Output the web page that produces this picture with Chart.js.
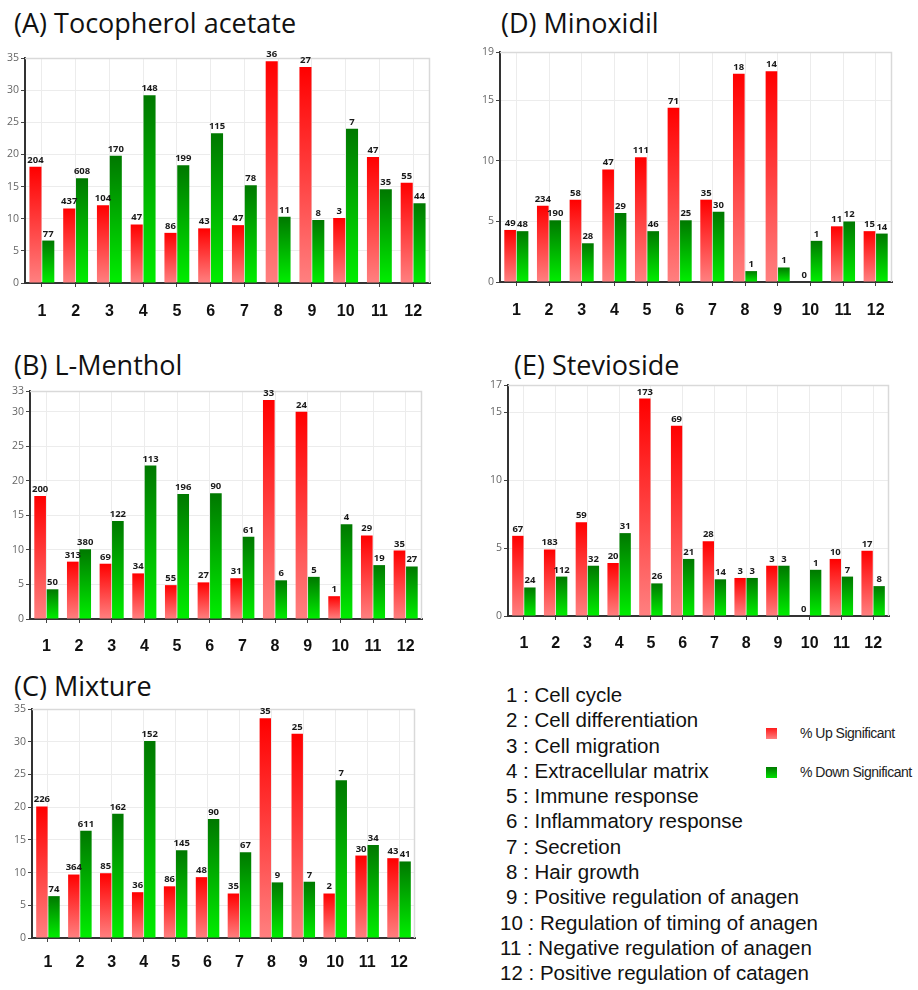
<!DOCTYPE html>
<html>
<head>
<meta charset="utf-8">
<script src="https://cdn.jsdelivr.net/npm/chart.js@4.4.1/dist/chart.umd.min.js"></script>
<style>
  html, body { margin: 0; padding: 0; background: #fff; }
  body { width: 918px; height: 990px; position: relative; overflow: hidden; }
  canvas { position: absolute; }
  .title {
    position: absolute; white-space: nowrap; line-height: 1;
    font-family: "Open Sans", "Noto Sans", sans-serif; font-size: 27px; color: #111;
  }
  .terms {
    position: absolute; left: 500px; top: 682px;
    font-family: "Liberation Sans", Arial, sans-serif; font-size: 20.5px; color: #111;
    line-height: 25.3px; white-space: nowrap;
  }
  .terms div.one { padding-left: 6px; }
  .key {
    position: absolute; left: 766px;
    font-family: "Liberation Sans", Arial, sans-serif; font-size: 14px; color: #222;
    letter-spacing: -0.5px; white-space: nowrap; line-height: 14px;
  }
  .key span.sw { display: inline-block; width: 11px; height: 11px; vertical-align: -1px; margin-right: 23px; }
</style>
</head>
<body>

<div class="title" style="left:14px; top:9px;">(A) Tocopherol acetate</div>
<div class="title" style="left:501px; top:9px;">(D) Minoxidil</div>
<div class="title" style="left:14px; top:351px;">(B) L-Menthol</div>
<div class="title" style="left:514px; top:351px;">(E) Stevioside</div>
<div class="title" style="left:14px; top:672px;">(C) Mixture</div>

<canvas id="chartA"></canvas>
<canvas id="chartD"></canvas>
<canvas id="chartB"></canvas>
<canvas id="chartE"></canvas>
<canvas id="chartC"></canvas>

<div class="terms" id="terms"></div>
<div class="key" style="top:726px;"><span class="sw" style="background:linear-gradient(#ff1a1a,#ff8080)"></span>% Up Significant</div>
<div class="key" style="top:765px;"><span class="sw" style="background:linear-gradient(#007a00,#00e000)"></span>% Down Significant</div>

<script>
// Gene-ontology categories shown on every x axis
const categories = ['1', '2', '3', '4', '5', '6', '7', '8', '9', '10', '11', '12'];
const termNames = [
  'Cell cycle', 'Cell differentiation', 'Cell migration', 'Extracellular matrix',
  'Immune response', 'Inflammatory response', 'Secretion', 'Hair growth',
  'Positive regulation of anagen', 'Regulation of timing of anagen',
  'Negative regulation of anagen', 'Positive regulation of catagen'
];

// (A) Tocopherol acetate: % of genes, and gene counts printed over the bars
const tocoUp = [18.1, 11.6, 12.1, 9.1, 7.8, 8.5, 9.0, 34.5, 33.6, 10.1, 19.6, 15.6];
const tocoDown = [6.6, 16.3, 19.8, 29.2, 18.3, 23.3, 15.2, 10.3, 9.8, 24.0, 14.6, 12.4];
const tocoUpCounts = [204, 437, 104, 47, 86, 43, 47, 36, 27, 3, 47, 55];
const tocoDownCounts = [77, 608, 170, 148, 199, 115, 78, 11, 8, 7, 35, 44];
const tocoTicks = [0, 5, 10, 15, 20, 25, 30, 35];

// (D) Minoxidil
const minoxUp = [4.3, 6.3, 6.8, 9.3, 10.3, 14.4, 6.8, 17.2, 17.4, 0, 4.6, 4.2];
const minoxDown = [4.2, 5.1, 3.2, 5.7, 4.2, 5.1, 5.8, 0.9, 1.2, 3.4, 5.0, 4.0];
const minoxUpCounts = [49, 234, 58, 47, 111, 71, 35, 18, 14, 0, 11, 15];
const minoxDownCounts = [48, 190, 28, 29, 46, 25, 30, 1, 1, 1, 12, 14];
const minoxTicks = [0, 5, 10, 15, 19];

// (B) L-Menthol
const mentholUp = [17.8, 8.3, 8.0, 6.6, 4.9, 5.3, 5.9, 31.7, 30.0, 3.3, 12.1, 9.9];
const mentholDown = [4.3, 10.1, 14.2, 22.2, 18.1, 18.2, 11.9, 5.6, 6.1, 13.7, 7.8, 7.6];
const mentholUpCounts = [200, 313, 69, 34, 55, 27, 31, 33, 24, 1, 29, 35];
const mentholDownCounts = [50, 380, 122, 113, 196, 90, 61, 6, 5, 4, 19, 27];
const mentholTicks = [0, 5, 10, 15, 20, 25, 30, 33];

// (E) Stevioside
const stevUp = [5.9, 4.9, 6.9, 3.9, 16.0, 14.0, 5.5, 2.8, 3.7, 0, 4.2, 4.8];
const stevDown = [2.1, 2.9, 3.7, 6.1, 2.4, 4.2, 2.7, 2.8, 3.7, 3.4, 2.9, 2.2];
const stevUpCounts = [67, 183, 59, 20, 173, 69, 28, 3, 3, 0, 10, 17];
const stevDownCounts = [24, 112, 32, 31, 26, 21, 14, 3, 3, 1, 7, 8];
const stevTicks = [0, 5, 10, 15, 17];

// (C) Mixture
const mixUp = [20.1, 9.7, 9.9, 7.0, 7.9, 9.3, 6.8, 33.6, 31.2, 6.8, 12.6, 12.2];
const mixDown = [6.4, 16.4, 19.0, 30.1, 13.4, 18.2, 13.1, 8.5, 8.6, 24.1, 14.2, 11.7];
const mixUpCounts = [226, 364, 85, 36, 86, 48, 35, 35, 25, 2, 30, 43];
const mixDownCounts = [74, 611, 162, 152, 145, 90, 67, 9, 7, 7, 34, 41];
const mixTicks = [0, 5, 10, 15, 20, 25, 30, 35];

const seriesNames = ['% Up Significant', '% Down Significant'];

// term list beside the legend
const termsEl = document.getElementById('terms');
termNames.forEach((name, i) => {
  const d = document.createElement('div');
  d.textContent = categories[i] + ' : ' + name;
  if (categories[i].length === 1) d.className = 'one';
  termsEl.appendChild(d);
});

// vertical gradient that spans each bar from its top down to zero
function barGradient(topColor, bottomColor) {
  return (c) => {
    const chart = c.chart;
    const y = chart.scales && chart.scales.y;
    if (!chart.chartArea || !y || c.raw == null) return topColor;
    const top = y.getPixelForValue(c.raw);
    const bot = y.getPixelForValue(0);
    if (bot - top < 1) return topColor;
    const g = chart.ctx.createLinearGradient(0, top, 0, bot);
    g.addColorStop(0, topColor);
    g.addColorStop(1, bottomColor);
    return g;
  };
}

// gene counts written above each bar
const countLabels = {
  id: 'countLabels',
  afterDatasetsDraw(chart) {
    const ctx = chart.ctx;
    ctx.save();
    ctx.font = 'bold 9.5px "Open Sans", "Noto Sans", sans-serif';
    ctx.fillStyle = '#1a1a1a';
    ctx.textAlign = 'center';
    ctx.textBaseline = 'bottom';
    chart.data.datasets.forEach((ds, di) => {
      const meta = chart.getDatasetMeta(di);
      meta.data.forEach((bar, i) => {
        ctx.fillText(String(ds.counts[i]), bar.x, bar.y - 2);
      });
    });
    ctx.restore();
  }
};

// light frame round the plotting area
const plotFrame = {
  id: 'plotFrame',
  beforeDatasetsDraw(chart) {
    const a = chart.chartArea;
    const ctx = chart.ctx;
    ctx.save();
    ctx.strokeStyle = '#d9d9d9';
    ctx.lineWidth = 1.5;
    ctx.beginPath();
    ctx.moveTo(a.left, a.top + 0.5);
    ctx.lineTo(a.right - 0.5, a.top + 0.5);
    ctx.lineTo(a.right - 0.5, a.bottom);
    ctx.stroke();
    ctx.restore();
  }
};

function makePanel(id, box, plot, labelPad, up, down, upCounts, downCounts, ticks) {
  const cv = document.getElementById(id);
  cv.style.left = box.left + 'px';
  cv.style.top = box.top + 'px';
  cv.style.width = box.w + 'px';
  cv.style.height = box.h + 'px';
  cv.width = box.w;
  cv.height = box.h;

  const yWidth = plot.l - box.left;
  const xHeight = box.top + box.h - plot.b;

  new Chart(cv, {
    type: 'bar',
    data: {
      labels: categories,
      datasets: [
        {
          label: seriesNames[0], data: up, counts: upCounts,
          backgroundColor: barGradient('#ff0000', '#ff8080'),
          borderWidth: 0, categoryPercentage: 0.76, barPercentage: 0.94
        },
        {
          label: seriesNames[1], data: down, counts: downCounts,
          backgroundColor: barGradient('#007800', '#00ee00'),
          borderWidth: 0, categoryPercentage: 0.76, barPercentage: 0.94
        }
      ]
    },
    options: {
      responsive: false,
      animation: false,
      devicePixelRatio: 1,
      layout: { padding: { top: plot.t - box.top, right: box.left + box.w - plot.r, left: 0, bottom: 0 } },
      plugins: { legend: { display: false }, tooltip: { enabled: false } },
      scales: {
        x: {
          grid: { offset: false, color: '#ececec', lineWidth: 1, tickLength: 4, tickColor: '#444' },
          border: { color: '#333', width: 2 },
          ticks: {
            color: '#111', padding: labelPad,
            font: { family: '"Liberation Sans", Arial, sans-serif', size: 16, weight: 'bold' }
          },
          afterFit: (s) => { s.height = xHeight; }
        },
        y: {
          min: 0, max: ticks[ticks.length - 1],
          afterBuildTicks: (s) => { s.ticks = ticks.map(v => ({ value: v })); },
          grid: { color: '#ececec', lineWidth: 1, tickLength: 4, tickColor: '#444' },
          border: { color: '#333', width: 2 },
          ticks: {
            color: '#666', padding: 2,
            font: { family: '"Open Sans", "Noto Sans", sans-serif', size: 10.5 }
          },
          afterFit: (s) => { s.width = yWidth; }
        }
      }
    },
    plugins: [plotFrame, countLabels]
  });
}

makePanel('chartA', { left: 0, top: 45, w: 450, h: 280 }, { l: 25, t: 58, r: 430, b: 283 }, 15,
  tocoUp, tocoDown, tocoUpCounts, tocoDownCounts, tocoTicks);
makePanel('chartD', { left: 470, top: 40, w: 448, h: 285 }, { l: 500, t: 52, r: 892, b: 282 }, 15,
  minoxUp, minoxDown, minoxUpCounts, minoxDownCounts, minoxTicks);
makePanel('chartB', { left: 0, top: 380, w: 450, h: 285 }, { l: 30, t: 391, r: 422, b: 619 }, 14,
  mentholUp, mentholDown, mentholUpCounts, mentholDownCounts, mentholTicks);
makePanel('chartE', { left: 470, top: 374, w: 448, h: 285 }, { l: 508, t: 385, r: 889, b: 616 }, 14,
  stevUp, stevDown, stevUpCounts, stevDownCounts, stevTicks);
makePanel('chartC', { left: 0, top: 698, w: 450, h: 290 }, { l: 32, t: 709, r: 415, b: 938 }, 11,
  mixUp, mixDown, mixUpCounts, mixDownCounts, mixTicks);
</script>
</body>
</html>
